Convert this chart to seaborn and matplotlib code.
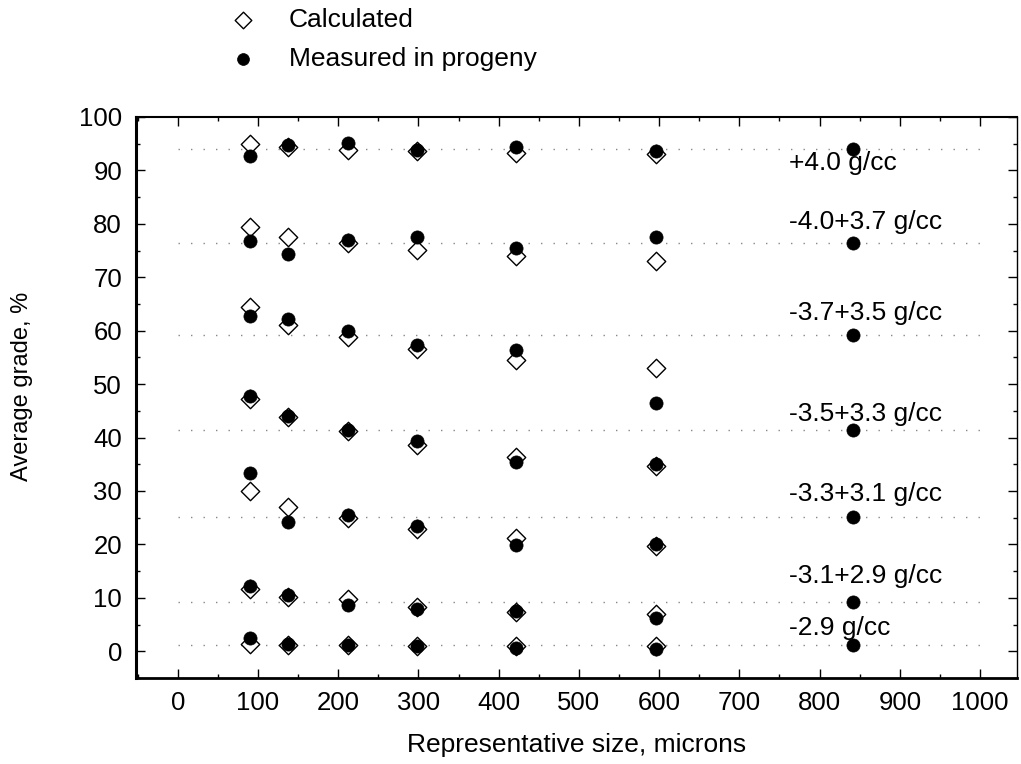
import numpy as np
import pandas as pd
import matplotlib
matplotlib.use("Agg")
import matplotlib.pyplot as plt
import seaborn as sns
from matplotlib.ticker import MultipleLocator

# ---------------- data ----------------
sizes = [90, 138, 212, 298, 421, 596]          # representative sizes, microns
feed_size = 841                                 # feed column
fractions = ["+4.0 g/cc", "-4.0+3.7 g/cc", "-3.7+3.5 g/cc", "-3.5+3.3 g/cc",
             "-3.3+3.1 g/cc", "-3.1+2.9 g/cc", "-2.9 g/cc"]

calc_p40   = [95.0, 94.3, 93.8, 93.6, 93.2, 93.0]
calc_40_37 = [79.4, 77.6, 76.4, 75.1, 73.9, 73.1]
calc_37_35 = [64.5, 61.1, 58.9, 56.6, 54.6, 53.1]
calc_35_33 = [47.3, 43.8, 41.2, 38.7, 36.4, 34.6]
calc_33_31 = [30.0, 27.0, 25.0, 22.9, 21.2, 19.7]
calc_31_29 = [11.7, 10.2, 9.7, 8.3, 7.3, 6.9]
calc_m29   = [1.4, 1.2, 1.2, 1.0, 0.9, 1.0]

meas_p40   = [92.7, 94.8, 95.1, 93.8, 94.3, 93.6]
meas_40_37 = [76.8, 74.3, 77.0, 77.5, 75.4, 77.5]
meas_37_35 = [62.8, 62.2, 60.0, 57.4, 56.4, 46.4]
meas_35_33 = [47.7, 44.0, 41.5, 39.4, 35.4, 35.1]
meas_33_31 = [33.3, 24.2, 25.6, 23.4, 19.8, 20.0]
meas_31_29 = [12.3, 10.6, 8.6, 8.0, 7.6, 6.3]
meas_m29   = [2.4, 1.4, 1.1, 0.9, 0.7, 0.5]

feed_grade = [94.0, 76.4, 59.2, 41.5, 25.2, 9.3, 1.2]
label_y = [91.3, 80.3, 63.3, 44.4, 29.5, 14.0, 4.3]
label_x = 762

calc_all = [calc_p40, calc_40_37, calc_37_35, calc_35_33, calc_33_31, calc_31_29, calc_m29]
meas_all = [meas_p40, meas_40_37, meas_37_35, meas_35_33, meas_33_31, meas_31_29, meas_m29]

calc_rows, meas_rows = [], []
for f, c, m, fg in zip(fractions, calc_all, meas_all, feed_grade):
    for s, v in zip(sizes, c):
        calc_rows.append({"size": s, "grade": v, "fraction": f})
    for s, v in zip(sizes + [feed_size], m + [fg]):
        meas_rows.append({"size": s, "grade": v, "fraction": f})
calc_df = pd.DataFrame(calc_rows)
meas_df = pd.DataFrame(meas_rows)

# ---------------- style ----------------
sns.set_style("ticks")
plt.rcParams["font.family"] = ["Liberation Sans", "DejaVu Sans"]
plt.rcParams["text.color"] = "black"
plt.rcParams["axes.labelcolor"] = "black"
plt.rcParams["xtick.color"] = "black"
plt.rcParams["ytick.color"] = "black"

fig = plt.figure(figsize=(10.21, 7.64), dpi=100)
ax = fig.add_axes([136 / 1021, 86 / 764, 881 / 1021, 561 / 764])

for fg in feed_grade:
    ax.hlines(fg, 0, 1000, colors="#888888", linestyles=(0, (1, 8)), linewidth=1.0, zorder=1)

sns.scatterplot(data=calc_df, x="size", y="grade", marker="D", s=88,
                facecolor="white", edgecolor="black", linewidth=1.0,
                ax=ax, zorder=2, label="Calculated")
sns.scatterplot(data=meas_df, x="size", y="grade", marker="o", s=90,
                color="black", edgecolor="black", linewidth=0.5,
                ax=ax, zorder=3, label="Measured in progeny")

for f, y in zip(fractions, label_y):
    ax.text(label_x, y, f, fontsize=19, va="center", ha="left", color="black", zorder=4)

ax.set_xlim(-52, 1046)
ax.set_ylim(-5, 100)
ax.xaxis.set_major_locator(MultipleLocator(100))
ax.xaxis.set_minor_locator(MultipleLocator(50))
ax.yaxis.set_major_locator(MultipleLocator(10))
ax.yaxis.set_minor_locator(MultipleLocator(5))
ax.tick_params(which="both", direction="in", top=True, right=True, color="black")
ax.tick_params(which="major", length=6.5, width=1.0, labelsize=18.5, labelcolor="black")
ax.tick_params(which="minor", length=3, width=1.0)
ax.tick_params(axis="x", which="major", pad=9)
ax.tick_params(axis="y", which="major", pad=10)

ax.spines["left"].set_linewidth(2.2)
ax.spines["bottom"].set_linewidth(2.0)
ax.spines["top"].set_linewidth(1.5)
ax.spines["right"].set_linewidth(1.0)
for sp in ax.spines.values():
    sp.set_color("black")

ax.set_xlabel("Representative size, microns", fontsize=19, labelpad=13)
ax.set_ylabel("Average grade, %", fontsize=17)
ax.yaxis.set_label_coords(-0.117, 0.5205)

handles, labels = ax.get_legend_handles_labels()
ax.get_legend().remove()
fig.legend(handles, labels, loc="upper left", bbox_to_anchor=(0.199, 1.007),
           bbox_transform=fig.transFigure, frameon=False, fontsize=19,
           borderpad=0, handletextpad=0.75, labelspacing=0.57, markerscale=0.9)

fig.savefig("out.png", dpi=100)
